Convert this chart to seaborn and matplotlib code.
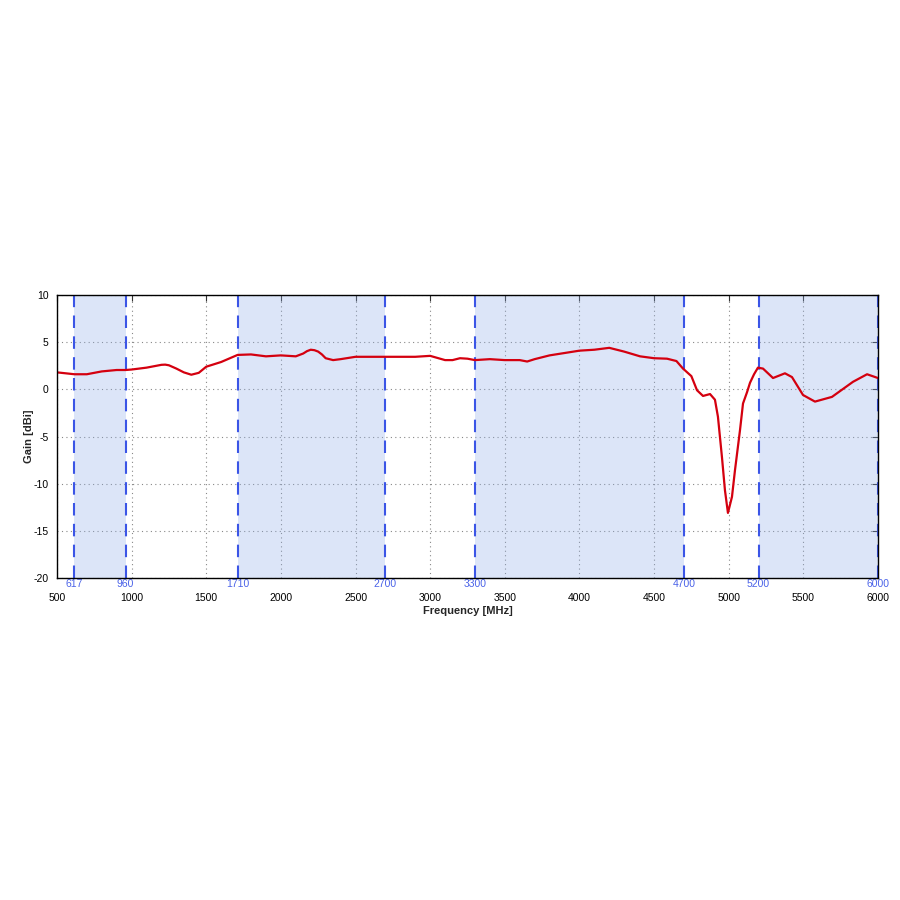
import numpy as np
import pandas as pd
import seaborn as sns
import matplotlib
matplotlib.use("Agg")
import matplotlib.pyplot as plt

freq_mhz = [500, 617, 700, 800, 900, 960, 1000, 1100, 1150, 1200, 1225, 1250, 1300, 1350,
            1400, 1450, 1500, 1600, 1710, 1800, 1900, 2000, 2100, 2150, 2175, 2200, 2225,
            2250, 2275, 2300, 2350, 2400, 2500, 2700, 2900, 3000, 3100, 3150, 3200, 3250,
            3300, 3400, 3500, 3600, 3650, 3700, 3800, 4000, 4100, 4200, 4300, 4406, 4500,
            4587, 4650, 4694, 4750, 4788, 4828, 4875, 4908, 4928, 4955, 4975, 4995, 5022,
            5042, 5076, 5096, 5123, 5143, 5170, 5196, 5230, 5297, 5377, 5424, 5498, 5578,
            5692, 5833, 5927, 6000]
gain_dbi = [1.8, 1.6, 1.6, 1.9, 2.05, 2.05, 2.1, 2.3, 2.45, 2.6, 2.62, 2.55, 2.2, 1.8,
            1.55, 1.75, 2.4, 2.9, 3.65, 3.7, 3.5, 3.6, 3.5, 3.8, 4.05, 4.2, 4.15,
            4.0, 3.7, 3.3, 3.1, 3.2, 3.45, 3.45, 3.45, 3.55, 3.1, 3.1, 3.3, 3.25,
            3.1, 3.2, 3.1, 3.1, 2.95, 3.2, 3.6, 4.1, 4.2, 4.4, 4.0, 3.5, 3.3,
            3.25, 3.0, 2.2, 1.4, -0.1, -0.7, -0.5, -1.1, -2.9, -7.2, -10.7, -13.1, -11.4,
            -8.6, -4.3, -1.5, -0.3, 0.7, 1.6, 2.3, 2.2, 1.2, 1.7, 1.3, -0.6, -1.3,
            -0.8, 0.8, 1.6, 1.2]

band_edges = [(617, 960), (1710, 2700), (3300, 4700), (5200, 6000)]
band_labels = [617, 960, 1710, 2700, 3300, 4700, 5200, 6000]
x_ticks = [500, 1000, 1500, 2000, 2500, 3000, 3500, 4000, 4500, 5000, 5500, 6000]
y_ticks = [-20, -15, -10, -5, 0, 5, 10]

df = pd.DataFrame({"Frequency": freq_mhz, "Gain": gain_dbi})

sns.set_style("white")
plt.rcParams["font.family"] = ["Liberation Sans", "DejaVu Sans"]
plt.rcParams["axes.unicode_minus"] = False

fig = plt.figure(figsize=(9, 9), dpi=100)
ax = fig.add_axes([0.0633, 0.3578, 0.9122, 0.3144])

ax.set_xlim(500, 6000)
ax.set_ylim(-20, 10)
ax.set_xticks(x_ticks)
ax.set_yticks(y_ticks)
ax.grid(True, linestyle=(0, (1, 3)), color="#888888", linewidth=0.8)

for lo, hi in band_edges:
    ax.axvspan(lo, hi, color=(142/255, 172/255, 232/255), alpha=0.3, lw=0, zorder=2)
for b in band_labels:
    ax.axvline(b, color="#3b55e6", linestyle=(0, (6, 4)), linewidth=1.5, zorder=3)
    ax.annotate(str(b), xy=(b, 0), xycoords=("data", "axes fraction"),
                xytext=(0, -1), textcoords="offset points", ha="center", va="top",
                fontsize=7.5, color="#4a62e8")

sns.lineplot(data=df, x="Frequency", y="Gain", ax=ax, color="#d4000f",
             linewidth=1.6, zorder=4, solid_joinstyle="round", solid_capstyle="round")

ax.tick_params(axis="both", direction="in", top=True, right=True, length=4,
               width=0.8, labelsize=7.5, colors="#333333", labelcolor="black")
ax.tick_params(axis="x", pad=11)
ax.tick_params(axis="y", pad=6)
for s in ax.spines.values():
    s.set_color("black")
    s.set_linewidth(1.0)
    s.set_zorder(5)

ax.set_xlabel("Frequency [MHz]", fontsize=8, fontweight="bold", labelpad=2)
ax.set_ylabel("Gain [dBi]", fontsize=8, fontweight="bold", labelpad=0)

fig.savefig("out.png", dpi=100)
